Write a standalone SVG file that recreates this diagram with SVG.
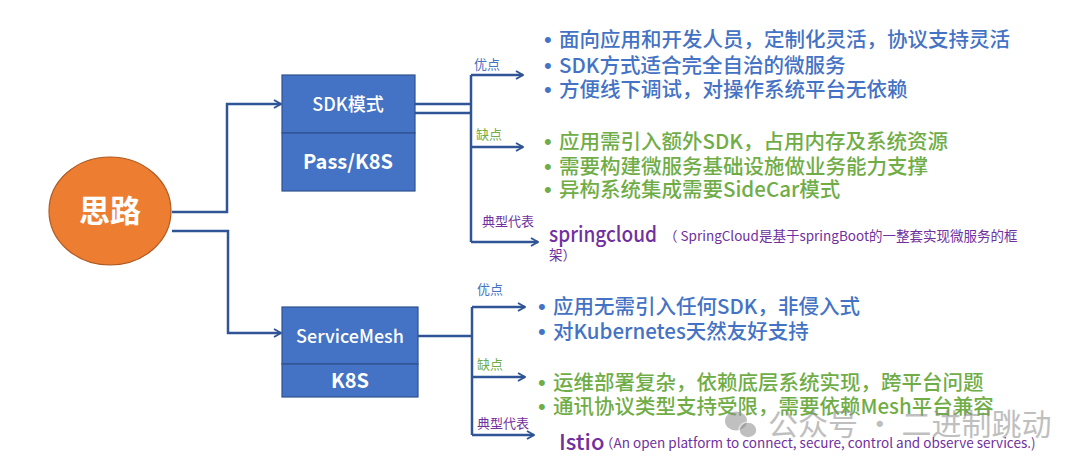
<svg xmlns="http://www.w3.org/2000/svg" width="1080" height="469" viewBox="0 0 1080 469">
<style>
  text { font-family: "Noto Sans CJK SC", "Noto Sans", sans-serif; }
  .wire { fill: none; stroke: #2F5597; stroke-width: 2.5; }
  .box { fill: #4472C4; stroke: #2F528F; stroke-width: 1.2; }
  .boxt { fill: #FFFFFF; text-anchor: middle; }
  .lbl { font-size: 13px; }
  .b { fill: #4472C4; font-size: 20.5px; font-weight: 500; }
  .g { fill: #70AD47; font-size: 20.5px; font-weight: 500; }
  .dot { font-family: "Liberation Sans", sans-serif; font-size: 22px; }
  .p { fill: #7030A0; }
  .wm { fill: #8C8C8C; opacity: 0.55; font-size: 30px; }
</style>
<defs>
  <marker id="arr" viewBox="0 0 10 10" refX="9" refY="5" markerWidth="10" markerHeight="10" markerUnits="userSpaceOnUse" orient="auto">
    <path d="M2,1 L9,5 L2,9" fill="none" stroke="#2F5597" stroke-width="2"/>
  </marker>
</defs>
<rect width="1080" height="469" fill="#FFFFFF"/>

<g id="connectors">
  <path class="wire" d="M172,212 H227 V104 H281" marker-end="url(#arr)"/>
  <path class="wire" d="M172,231 H228 V333 H281" marker-end="url(#arr)"/>
  <path class="wire" d="M415,104 H471"/>
  <path class="wire" d="M412,113 H471"/>
  <path class="wire" d="M471,75 V242"/>
  <path class="wire" d="M471,75 H523" marker-end="url(#arr)"/>
  <path class="wire" d="M471,147 H523" marker-end="url(#arr)"/>
  <path class="wire" d="M471,242 H538" marker-end="url(#arr)"/>
  <path class="wire" d="M418,336 H472"/>
  <path class="wire" d="M472,307 V435"/>
  <path class="wire" d="M472,307 H525" marker-end="url(#arr)"/>
  <path class="wire" d="M472,377 H525" marker-end="url(#arr)"/>
  <path class="wire" d="M472,435 H534" marker-end="url(#arr)"/>
</g>

<g id="node-silu">
  <ellipse cx="110" cy="211" rx="61" ry="54" fill="#ED7D31" stroke="#AE5A21" stroke-width="1.2"/>
  <text x="110" y="222" class="boxt" font-size="31" font-weight="700">思路</text>
</g>

<g id="node-sdk">
  <rect class="box" x="282" y="75" width="133" height="58"/>
  <rect class="box" x="282" y="133" width="133" height="58"/>
  <text x="348" y="111" class="boxt" font-size="18" font-weight="500">SDK模式</text>
  <text x="348" y="169" class="boxt" font-size="20" font-weight="700">Pass/K8S</text>
</g>

<g id="node-servicemesh">
  <rect class="box" x="282" y="307" width="136" height="57"/>
  <rect class="box" x="282" y="364" width="136" height="33"/>
  <text x="350" y="343" class="boxt" font-size="18" font-weight="500">ServiceMesh</text>
  <text x="350" y="388" class="boxt" font-size="20" font-weight="700">K8S</text>
</g>

<g id="sdk-labels">
  <text x="474" y="69" class="lbl" fill="#4472C4">优点</text>
  <text x="476" y="139" class="lbl" fill="#70AD47">缺点</text>
  <text x="482" y="226" class="lbl p">典型代表</text>
</g>

<g id="sdk-pros" fill="#4472C4">
  <text x="544" y="47" class="dot">•</text>
  <text x="559" y="47" class="b">面向应用和开发人员，定制化灵活，协议支持灵活</text>
  <text x="544" y="73" class="dot">•</text>
  <text x="559" y="73" class="b">SDK方式适合完全自治的微服务</text>
  <text x="544" y="97" class="dot">•</text>
  <text x="559" y="97" class="b">方便线下调试，对操作系统平台无依赖</text>
</g>

<g id="sdk-cons" fill="#70AD47">
  <text x="544" y="149" class="dot">•</text>
  <text x="559" y="149" class="g">应用需引入额外SDK，占用内存及系统资源</text>
  <text x="544" y="174" class="dot">•</text>
  <text x="559" y="174" class="g">需要构建微服务基础设施做业务能力支撑</text>
  <text x="544" y="197" class="dot">•</text>
  <text x="559" y="197" class="g">异构系统集成需要SideCar模式</text>
</g>

<g id="sdk-rep">
  <text x="549" y="242" class="p" font-size="21" font-weight="500" textLength="108" lengthAdjust="spacingAndGlyphs">springcloud</text>
  <text x="664" y="241" class="p" font-size="13.5">（ SpringCloud是基于springBoot的一整套实现微服务的框</text>
  <text x="549" y="260" class="p" font-size="13.5">架）</text>
</g>

<g id="mesh-labels">
  <text x="477" y="294" class="lbl" fill="#4472C4">优点</text>
  <text x="477" y="369" class="lbl" fill="#70AD47">缺点</text>
  <text x="477" y="428" class="lbl p">典型代表</text>
</g>

<g id="mesh-pros" fill="#4472C4">
  <text x="538" y="314" class="dot">•</text>
  <text x="553" y="314" class="b">应用无需引入任何SDK，非侵入式</text>
  <text x="538" y="339" class="dot">•</text>
  <text x="553" y="339" class="b">对Kubernetes天然友好支持</text>
</g>

<g id="mesh-cons" fill="#70AD47">
  <text x="538" y="390" class="dot">•</text>
  <text x="553" y="390" class="g">运维部署复杂，依赖底层系统实现，跨平台问题</text>
  <text x="538" y="414" class="dot">•</text>
  <text x="553" y="414" class="g">通讯协议类型支持受限，需要依赖Mesh平台兼容</text>
</g>

<g id="mesh-rep">
  <text x="559" y="450" class="p" font-size="22" font-weight="500">Istio</text>
  <text x="600" y="448" class="p" font-size="13.5">（An open platform to connect, secure, control and observe services.)</text>
</g>

<g id="watermark">
  <ellipse cx="736" cy="421" rx="11" ry="9.5" fill="#8C8C8C" opacity="0.55"/>
  <ellipse cx="748" cy="430" rx="9" ry="8" fill="#8C8C8C" opacity="0.55" stroke="#FFFFFF" stroke-width="1.5"/>
  <text x="768" y="435" class="wm">公众号 · 二进制跳动</text>
</g>
</svg>
